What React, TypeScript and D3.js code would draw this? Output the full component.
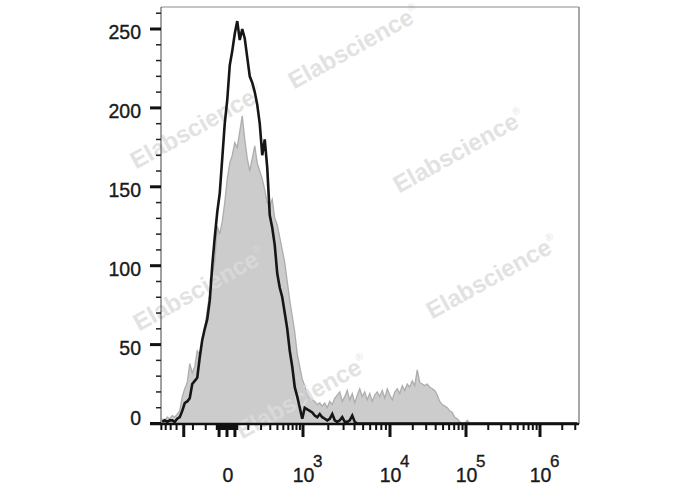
import React from 'react';
import * as d3 from 'd3';

// ---------- data ----------
// Histogram counts per channel (channels are equally spaced on the display axis)
const grayCounts = [
  3, 2, 4, 3, 5, 4, 6, 8, 17, 22, 26, 38, 32, 36, 46, 44, 52, 60, 72, 82,
  95, 103, 125, 120, 128, 140, 155, 165, 170, 178, 175, 185, 195, 180, 168, 160, 168, 176, 165, 160,
  155, 148, 140, 138, 142, 130, 126, 118, 110, 102, 90, 78, 68, 58, 44, 36, 28, 24, 19, 16,
  15, 14, 12, 13, 11, 13, 10, 14, 12, 16, 18, 20, 14, 17, 21, 15, 19, 13, 18, 22,
  17, 20, 15, 19, 14, 18, 20, 17, 21, 16, 22, 18, 15, 20, 22, 19, 24, 21, 25, 23,
  27, 24, 34, 26, 25, 24, 25, 23, 22, 21, 18, 14, 12, 11, 10, 8, 7, 4, 3, 1,
  0, 0, 2, 0,
];
const blackCounts = [
  1, 2, 1, 2, 2, 1, 3, 4, 8, 13, 14, 16, 25, 27, 29, 42, 53, 60, 66, 78,
  100, 118, 134, 146, 168, 190, 205, 227, 236, 247, 255, 243, 250, 244, 232, 220, 216, 210, 202, 190,
  170, 180, 162, 132, 124, 113, 95, 86, 80, 70, 60, 46, 36, 23, 17, 10, 3, 10, 9, 8,
  7, 5, 4, 6, 4, 3, 2, 3, 6, 2, 1, 2, 4, 1, 1, 2, 5, 1,
];
const N_CHANNELS = 167.2;

const yMajorTicks = [0, 50, 100, 150, 200, 250];
const yMinorTicks = [10, 20, 30, 40, 60, 70, 80, 90, 110, 120, 130, 140, 160, 170, 180, 190, 210, 220, 230, 240, 260];

const xDecadeTicks = [1e3, 1e4, 1e5, 1e6];
const xDecadeExponents = ['3', '4', '5', '6'];
const xMinorTicks = [
  -700, -600, -500, -400, -200, -100,
  100, 200, 300, 400, 500, 600, 700, 800, 900,
  2e3, 3e3, 4e3, 5e3, 6e3, 7e3, 8e3, 9e3,
  2e4, 3e4, 4e4, 5e4, 6e4, 7e4, 8e4, 9e4,
  2e5, 3e5, 4e5, 5e5, 6e5, 7e5, 8e5, 9e5,
  2e6, 3e6,
];
const xMajorNegTicks = [-300];
const xZeroMinorTicks = [-40, -36, -32, -28, -24, -20, -16, -12, -8, -4, 4, 8, 12, 16, 20, 24, 28, 32, 36, 40];
const xZeroMajorTicks = [-30, 0, 30];

const watermarkCenters: [number, number][] = [
  [358, 54], [200, 134], [463, 158], [203, 296], [496, 284], [306, 404],
];

// ---------- layout ----------
const W = 688, H = 490;
const L = 161, R = 579, T0 = 7, B = 424;

const FONT = "'Liberation Sans', Arial, Helvetica, sans-serif";

const Tf = (v: number) => Math.sign(v) * Math.log10(1 + Math.abs(v) / 110);
const xVal = d3.scaleLinear()
  .domain([Tf(-709), Tf(0), Tf(1e3), Tf(1e4), Tf(1e5), Tf(1e6), Tf(3.37e6)])
  .range([L, 227, 303, 390, 466, 540, R]);
const xt = (v: number) => xVal(Tf(v));

const xCh = d3.scaleLinear().domain([0, N_CHANNELS]).range([L, R]);
const y = d3.scaleLinear().domain([0, 250]).range([423.5, 29]);

const nCh = Math.floor(N_CHANNELS);
const grayData = d3.range(nCh).map((i) => [i + 0.5, grayCounts[i] ?? 0] as [number, number]);
const blackData = d3.range(nCh).map((i) => [i + 0.5, blackCounts[i] ?? 0] as [number, number]);

export default function App() {
  const area = d3.area<[number, number]>()
    .x((d) => xCh(d[0]))
    .y0(y(0))
    .y1((d) => y(d[1]));
  const line = d3.line<[number, number]>()
    .x((d) => xCh(d[0]))
    .y((d) => y(d[1]));

  const labelProps = { fontFamily: FONT, fill: '#1a1a1a', stroke: '#1a1a1a', strokeWidth: 0.35 };

  return (
    <svg width={W} height={H} style={{ position: 'absolute', left: 0, top: 0, background: '#fff' }}>
      <defs>
        <clipPath id="plot">
          <rect x={L} y={T0} width={R - L} height={B - T0} />
        </clipPath>
      </defs>
      <rect x={0} y={0} width={W} height={H} fill="#fff" />
      <g clipPath="url(#plot)">
        <path d={area(grayData) || ''} fill="#cccccc" stroke="none" />
        <path d={line(grayData) || ''} fill="none" stroke="#adadad" strokeWidth={1.3} />
      </g>
      {watermarkCenters.map(([cx, cy], i) => (
        <text key={i} x={cx} y={cy} transform={`rotate(-29 ${cx} ${cy})`} textAnchor="middle"
          fontFamily={FONT} fontWeight="bold" fontSize={24} fill="#dcdcdc" opacity={0.8}>
          Elabscience<tspan fontSize={10} fontWeight="normal" dy={-12}>®</tspan>
        </text>
      ))}
      <g clipPath="url(#plot)">
        <path d={line(blackData) || ''} fill="none" stroke="#161616" strokeWidth={2.6} strokeLinejoin="miter" />
      </g>
      {/* frame */}
      <line x1={L} y1={T0} x2={R} y2={T0} stroke="#8a8a8a" strokeWidth={1} />
      <line x1={R} y1={T0} x2={R} y2={B} stroke="#8a8a8a" strokeWidth={1.5} />
      <line x1={L} y1={T0} x2={L} y2={B} stroke="#444" strokeWidth={1} />
      <line x1={150} y1={B} x2={R} y2={B} stroke="#111" strokeWidth={2.5} />
      {/* y ticks */}
      {yMinorTicks.map((v) => (
        <line key={'ym' + v} x1={156} x2={L} y1={y(v)} y2={y(v)} stroke="#222" strokeWidth={1.5} />
      ))}
      {yMajorTicks.map((v) => (
        <line key={'yM' + v} x1={150} x2={L} y1={y(v)} y2={y(v)} stroke="#111" strokeWidth={3} />
      ))}
      {yMajorTicks.map((v) => (
        <text key={'yl' + v} x={141} y={Math.min(y(v) + 3, 418)} dominantBaseline="central" textAnchor="end"
          fontSize={19.5} {...labelProps}>{v}</text>
      ))}
      {/* x ticks */}
      {xMinorTicks.concat(xZeroMinorTicks).map((v) => (
        <line key={'xm' + v} x1={xt(v)} x2={xt(v)} y1={B} y2={B + 6} stroke="#111" strokeWidth={2} />
      ))}
      {xMajorNegTicks.concat(xZeroMajorTicks, xDecadeTicks).map((v) => (
        <line key={'xM' + v} x1={xt(v)} x2={xt(v)} y1={B} y2={B + 13} stroke="#111" strokeWidth={3} />
      ))}
      <text x={xt(0) + 1} y={482} textAnchor="middle" fontSize={19.5} {...labelProps}>0</text>
      {xDecadeTicks.map((v, i) => (
        <g key={'xl' + v}>
          <text x={xt(v) + 0.5} y={482} textAnchor="middle" fontSize={19.5} {...labelProps}>10</text>
          <text x={xt(v) + 10} y={467} textAnchor="start" fontSize={17} {...labelProps}>{xDecadeExponents[i]}</text>
        </g>
      ))}
    </svg>
  );
}
